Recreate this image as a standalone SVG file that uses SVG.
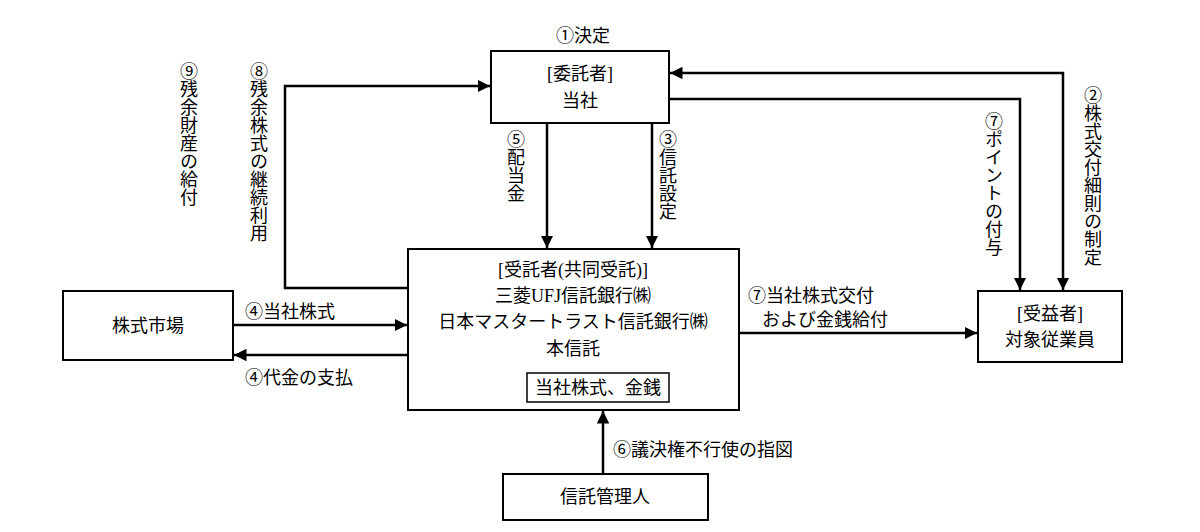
<svg xmlns="http://www.w3.org/2000/svg" width="1200" height="532" viewBox="0 0 1200 532">
<style>
text{font-family:"Liberation Serif","Noto Sans CJK JP",serif;font-size:18px;fill:#000}
.c{text-anchor:middle}
.v{writing-mode:vertical-rl;glyph-orientation-vertical:0}
rect{fill:#fff;stroke:#000;stroke-width:2}
.l{fill:none;stroke:#000;stroke-width:2.5}
</style>
<defs>
<marker id="a" viewBox="0 0 10 10" refX="10" refY="5" markerWidth="5" markerHeight="5" orient="auto" markerUnits="strokeWidth"><path d="M0,0L10,5L0,10z" fill="#000"/></marker>
<marker id="s" viewBox="0 0 10 10" refX="0" refY="5" markerWidth="5" markerHeight="5" orient="auto" markerUnits="strokeWidth"><path d="M10,0L0,5L10,10z" fill="#000"/></marker>
</defs>
<g id="connectors">
<path class="l" d="M547,123V248" marker-end="url(#a)"/>
<path class="l" d="M652,123V248" marker-end="url(#a)"/>
<path class="l" d="M408,288H285V86H490" marker-end="url(#a)"/>
<path class="l" d="M669,99H1020V290" marker-end="url(#a)"/>
<path class="l" d="M1063,290V73H670" marker-start="url(#s)" marker-end="url(#a)"/>
<path class="l" d="M233,325H407" marker-end="url(#a)"/>
<path class="l" d="M408,355H234" marker-end="url(#a)"/>
<path class="l" d="M739,333H977" marker-end="url(#a)"/>
<path class="l" d="M603,474V411" marker-end="url(#a)"/>
</g>
<g id="itaku"><rect x="491" y="51" width="178" height="72"/><text class="c" x="580" y="80">[委託者]</text><text class="c" x="580" y="107">当社</text></g>
<g id="jutaku"><rect x="408" y="249" width="331" height="161"/>
<text class="c" x="573" y="276">[受託者(共同受託)]</text>
<text class="c" x="573" y="302">三菱UFJ信託銀行㈱</text>
<text class="c" x="573" y="328">日本マスタートラスト信託銀行㈱</text>
<text class="c" x="573" y="355">本信託</text>
<rect x="527" y="373" width="142" height="29" style="stroke-width:1.5"/>
<text class="c" x="598" y="394">当社株式、金銭</text></g>
<g id="market"><rect x="63" y="291" width="170" height="69"/><text class="c" x="148" y="332">株式市場</text></g>
<g id="juekisha"><rect x="978" y="291" width="144" height="71"/><text class="c" x="1050" y="320">[受益者]</text><text class="c" x="1050" y="346">対象従業員</text></g>
<g id="kanri"><rect x="503" y="474" width="205" height="46"/><text class="c" x="605" y="503">信託管理人</text></g>
<g id="labels">
<text class="c" x="583" y="42">①決定</text>
<text class="v" x="187" y="62">⑨残余財産の給付</text>
<text class="v" x="257" y="62">⑧残余株式の継続利用</text>
<text class="v" x="514" y="130">⑤配当金</text>
<text class="v" x="666" y="130">③信託設定</text>
<text class="v" x="992" y="112">⑦ポイントの付与</text>
<text class="v" x="1091" y="86">②株式交付細則の制定</text>
<text x="245" y="318">④当社株式</text>
<text x="245" y="384">④代金の支払</text>
<text x="748" y="302">⑦当社株式交付</text>
<text x="762" y="326">および金銭給付</text>
<text x="613" y="456">⑥議決権不行使の指図</text>
</g>
</svg>
